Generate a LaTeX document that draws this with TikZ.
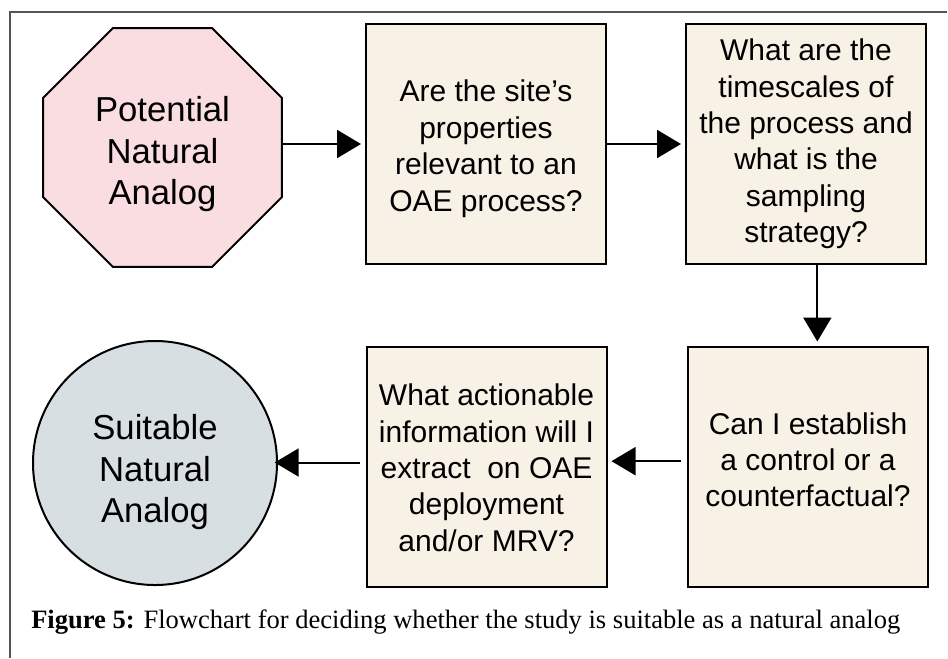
\documentclass[tikz,border=0pt]{standalone}
\usepackage{fontspec}
\setmainfont{Liberation Serif}
\newfontfamily\arialfont{Liberation Sans}
\usetikzlibrary{shapes.geometric,arrows.meta}

\definecolor{startpink}{HTML}{F9DDE0}
\definecolor{stepcream}{HTML}{F8F1E5}
\definecolor{endgrey}{HTML}{D8DFE3}
\definecolor{framegrey}{HTML}{555555}

\tikzset{
  qbox/.style={draw=black, line width=1.5pt, fill=stepcream, inner sep=0pt,
    minimum width=180pt, minimum height=180pt},
  qtext/.style={align=center, inner sep=0pt,
    font=\arialfont\fontsize{22.5}{27.3}\selectfont},
  bigtext/.style={align=center, inner sep=0pt,
    font=\arialfont\fontsize{26}{31}\selectfont},
  startnode/.style={regular polygon, regular polygon sides=8, draw=black,
    line width=1.5pt, fill=startpink, inner sep=0pt, minimum size=194pt},
  endnode/.style={circle, draw=black, line width=1.5pt, fill=endgrey,
    inner sep=0pt, minimum size=183pt},
  conn/.style={line width=1.5pt, -{Triangle[length=18pt,width=21pt]},
    shorten >=3pt},
  framerule/.style={draw=framegrey, line width=1.1pt}
}

\begin{document}
\begin{tikzpicture}[x=0.75pt, y=-0.75pt]
  \useasboundingbox (0,0) rectangle (948,658);

  % outer frame (top and left rules)
  \draw[framerule] (10,658) -- (10,12) -- (947,12);

  % nodes
  \node[startnode, label={[bigtext, yshift=-5pt]center:{Potential\\Natural\\Analog}}]
    (start) at (162.5,147.5) {};
  \node[qbox, label={[qtext, yshift=-3.5pt]center:{Are the site’s\\properties\\relevant to an\\OAE process?}}]
    (b1) at (486,144) {};
  \node[qbox, label={[qtext, yshift=0pt]center:{What are the\\timescales of\\the process and\\what is the\\sampling\\strategy?}}]
    (b2) at (806,144) {};
  \node[qbox, label={[qtext, yshift=5pt]center:{Can I establish\\a control or a\\counterfactual?}}]
    (b3) at (808,466.5) {};
  \node[qbox, label={[qtext, yshift=-1pt]center:{What actionable\\information will I\\extract~ on OAE\\deployment\\and/or MRV?}}]
    (b4) at (486.5,466.5) {};
  \node[endnode, label={[bigtext, yshift=-7pt]center:{Suitable\\Natural\\Analog}}]
    (finish) at (155,463) {};

  % connectors
  \draw[conn] (b1.west -| start.east) -- (b1.west);
  \draw[conn] (b1.east) -- (b2.west);
  \draw[conn] ([xshift=8.5pt]b2.south) -- ([xshift=8.5pt]b2.south |- b3.north);
  \draw[conn, shorten <=4.5pt] ([yshift=4pt]b3.west) -- ([yshift=4pt]b4.east);
  \draw[conn, shorten <=4.5pt, shorten >=-2.5pt] ([yshift=3pt]b4.west) -- ([yshift=3pt]b4.west -| finish.east);

  % caption
  \node[anchor=base west, inner sep=0pt, font=\fontsize{19.9}{23}\selectfont] (caption) at (31,628)
    {\textbf{Figure 5:} Flowchart for deciding whether the study is suitable as a natural analog};
\end{tikzpicture}
\end{document}
